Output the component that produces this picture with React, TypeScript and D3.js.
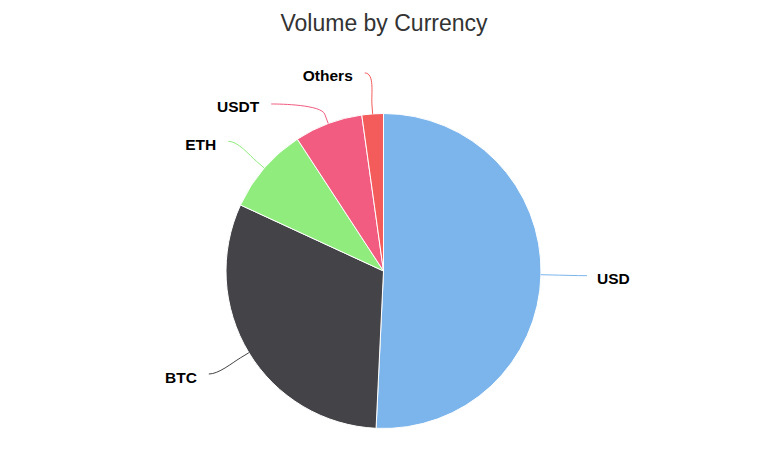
import { useEffect, useRef } from "react";
import * as d3 from "d3";

const currencies = ["USD", "BTC", "ETH", "USDT", "Others"];
const shares = [50.7, 31.1, 8.9, 7.0, 2.2];
const colors = ["#7cb5ec", "#434348", "#90ed7d", "#f15c80", "#f45b5b"];

const WIDTH = 768;
const HEIGHT = 461;

export default function App() {
  const svgRef = useRef<SVGSVGElement>(null);

  useEffect(() => {
    if (!svgRef.current) return;
    const svg = d3.select(svgRef.current);
    svg.selectAll("*").remove();

    const cx = 383.5;
    const cy = 271;
    const r = 157.5;
    const labelR = 198.5; // radius + label distance
    const connectorPadding = 5;
    const spacing = 31;

    svg
      .append("text")
      .attr("x", WIDTH / 2)
      .attr("y", 31)
      .attr("text-anchor", "middle")
      .style("font-family", "'Liberation Sans', Arial, sans-serif")
      .style("font-size", "23px")
      .style("fill", "#333333")
      .text("Volume by Currency");

    const data = currencies.map((c, i) => ({ name: c, value: shares[i], color: colors[i] }));

    const pie = d3
      .pie<(typeof data)[number]>()
      .value((d) => d.value)
      .sort(null);
    const arcs = pie(data);
    const arc = d3.arc<d3.PieArcDatum<(typeof data)[number]>>().innerRadius(0).outerRadius(r);

    const g = svg.append("g").attr("transform", `translate(${cx},${cy})`);

    g.selectAll("path.slice")
      .data(arcs)
      .join("path")
      .attr("class", "slice")
      .attr("d", arc)
      .attr("fill", (d) => d.data.color)
      .attr("stroke", "#ffffff")
      .attr("stroke-width", 1)
      .attr("stroke-linejoin", "round");

    // label layout: mid angle, then push labels apart on each side
    const labels = arcs.map((a) => {
      const mid = (a.startAngle + a.endAngle) / 2;
      const right = Math.sin(mid) >= 0;
      return {
        name: a.data.name,
        color: a.data.color,
        mid,
        right,
        ex: Math.sin(mid) * r,
        ey: -Math.cos(mid) * r,
        y: -Math.cos(mid) * labelR,
        x: 0,
      };
    });

    for (const side of [true, false]) {
      const group = labels.filter((l) => l.right === side).sort((a, b) => a.y - b.y);
      let prev = -Infinity;
      group.forEach((l) => {
        l.y = Math.max(l.y, prev + spacing);
        prev = l.y;
      });
    }

    labels.forEach((l) => {
      const yy = Math.max(-labelR, Math.min(labelR, l.y));
      const dx = Math.sqrt(labelR * labelR - yy * yy) + connectorPadding;
      l.x = l.right ? dx : -dx;
    });

    const connector = (l: (typeof labels)[number]) => {
      const dirX = Math.sin(l.mid);
      const dirY = -Math.cos(l.mid);
      const bx = l.ex + dirX * 10;
      const by = l.ey + dirY * 10;
      const s = l.right ? -1 : 1;
      const p = d3.path();
      p.moveTo(l.x, l.y);
      p.bezierCurveTo(l.x + s * 10, l.y, 2 * bx - l.ex, 2 * by - l.ey, bx, by);
      p.lineTo(l.ex, l.ey);
      return p.toString();
    };

    g.selectAll("path.connector")
      .data(labels)
      .join("path")
      .attr("class", "connector")
      .attr("d", connector)
      .attr("fill", "none")
      .attr("stroke", (d) => d.color)
      .attr("stroke-width", 1);

    g.selectAll("text.label")
      .data(labels)
      .join("text")
      .attr("class", "label")
      .attr("x", (d) => (d.right ? d.x + 10 : d.x - 12))
      .attr("y", (d) => d.y + 8.5)
      .attr("text-anchor", (d) => (d.right ? "start" : "end"))
      .style("font-family", "'Liberation Sans', Arial, sans-serif")
      .style("font-size", "15.5px")
      .style("font-weight", "bold")
      .style("fill", "#000000")
      .text((d) => d.name);
  }, []);

  return (
    <div style={{ position: "absolute", left: 0, top: 0 }}>
      <svg ref={svgRef} width={WIDTH} height={HEIGHT} style={{ display: "block", background: "#ffffff" }} />
    </div>
  );
}
